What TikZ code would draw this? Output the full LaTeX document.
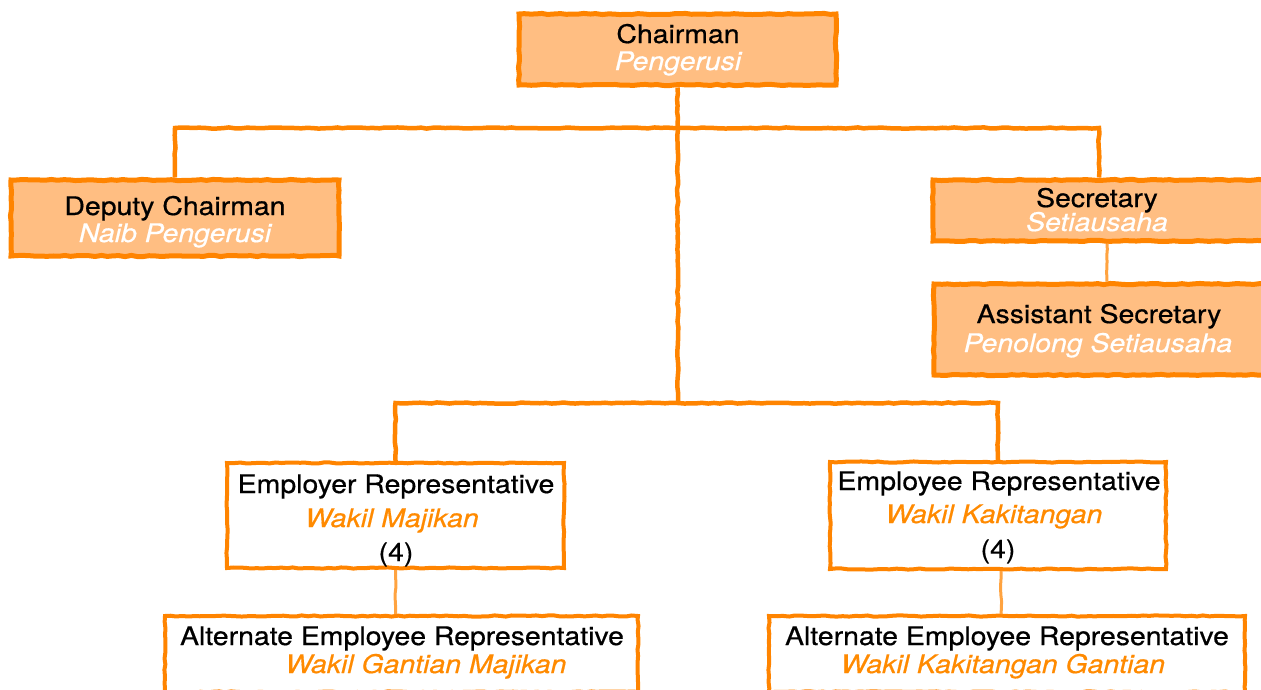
\documentclass[tikz,border=0pt]{standalone}
\usepackage{fontspec}
\setmainfont{TeX Gyre Heros}[FakeStretch=1.11,FakeBold=0.6]
\usetikzlibrary{decorations.pathmorphing}
\definecolor{org}{RGB}{255,132,0}
\definecolor{lorg}{RGB}{255,190,130}
\definecolor{torg}{RGB}{255,138,0}
\begin{document}
\begin{tikzpicture}[x=1pt,y=-1pt,
  font=\fontsize{25.6}{28}\selectfont,
  rough/.style={decorate, decoration={random steps, segment length=6pt, amplitude=0.6pt}},
  hot/.style={draw=org, fill=lorg, line width=5pt, inner sep=0pt, rectangle, rough},
  cold/.style={draw=org, fill=white, line width=4pt, inner sep=0pt, rectangle, rough},
  link/.style={draw=org, line width=4.5pt, rough},
  thinlink/.style={draw=org!75, line width=3pt, rough},
  lab/.style={anchor=base, inner sep=0pt},
  wt/.style={text=white, font=\fontsize{25.6}{28}\selectfont\itshape},
  ot/.style={text=torg, font=\fontsize{25.6}{28}\selectfont\itshape}]
\useasboundingbox (0,0) rectangle (1261,689);
\pgfmathsetseed{7}

% boxes
\node[hot, minimum width=317pt, minimum height=71pt] (chair) at (677.5,49.5) {};
\node[hot, minimum width=328pt, minimum height=76pt] (deputy) at (175,218) {};
\node[hot, minimum width=332pt, minimum height=61pt] (sec) at (1099,210.5) {};
\node[hot, minimum width=332pt, minimum height=91pt] (asec) at (1100,329.5) {};
\node[cold, minimum width=337pt, minimum height=105pt] (emp) at (395.5,515.5) {};
\node[cold, minimum width=336pt, minimum height=107pt] (empe) at (998,515.5) {};
\node[cold, minimum width=473pt, minimum height=76pt] (alt1) at (401.5,654) {};
\node[cold, minimum width=476pt, minimum height=76pt] (alt2) at (1007,654) {};

% connectors
\coordinate (hub) at (678,128);
\coordinate (hub2) at (678,403);
\draw[link] (chair.south) -- (hub2);
\draw[link] (deputy.north) |- (hub) -| (sec.north);
\draw[link] (emp.north) |- (hub2) -| (empe.north);
\draw[thinlink] ([xshift=8pt]sec.south) -- ([xshift=8pt]sec.south |- asec.north);
\draw[thinlink] (emp.south) -- (emp.south |- alt1.north);
\draw[thinlink] ([xshift=3pt]empe.south) -- ([xshift=3pt]empe.south |- alt2.north);

% texts
\node[lab] (chairA) at (678,43) {Chairman};
\node[lab,wt] (chairB) at (678,70) {Pengerusi};
\node[lab] (depA) at (175,215) {Deputy Chairman};
\node[lab,wt] (depB) at (175,242) {Naib Pengerusi};
\node[lab] (secA) at (1097,207) {Secretary};
\node[lab,wt] (secB) at (1097,231) {Setiausaha};
\node[lab] (asecA) at (1099,323) {Assistant Secretary};
\node[lab,wt] (asecB) at (1098,352) {Penolong Setiausaha};
\node[lab] (empA) at (396,493) {Employer Representative};
\node[lab,ot] (empB) at (392,527) {Wakil Majikan};
\node[lab] (empC) at (396,561) {(4)};
\node[lab] (empeA) at (999,490) {Employee Representative};
\node[lab,ot] (empeB) at (994,523) {Wakil Kakitangan};
\node[lab] (empeC) at (998,558) {(4)};
\node[lab] (altA) at (402,645) {Alternate Employee Representative};
\node[lab,ot] (altB) at (426,673) {Wakil Gantian Majikan};
\node[lab] (alt2A) at (1007,645) {Alternate Employee Representative};
\node[lab,ot] (alt2B) at (1003,673) {Wakil Kakitangan Gantian};
\end{tikzpicture}
\end{document}
